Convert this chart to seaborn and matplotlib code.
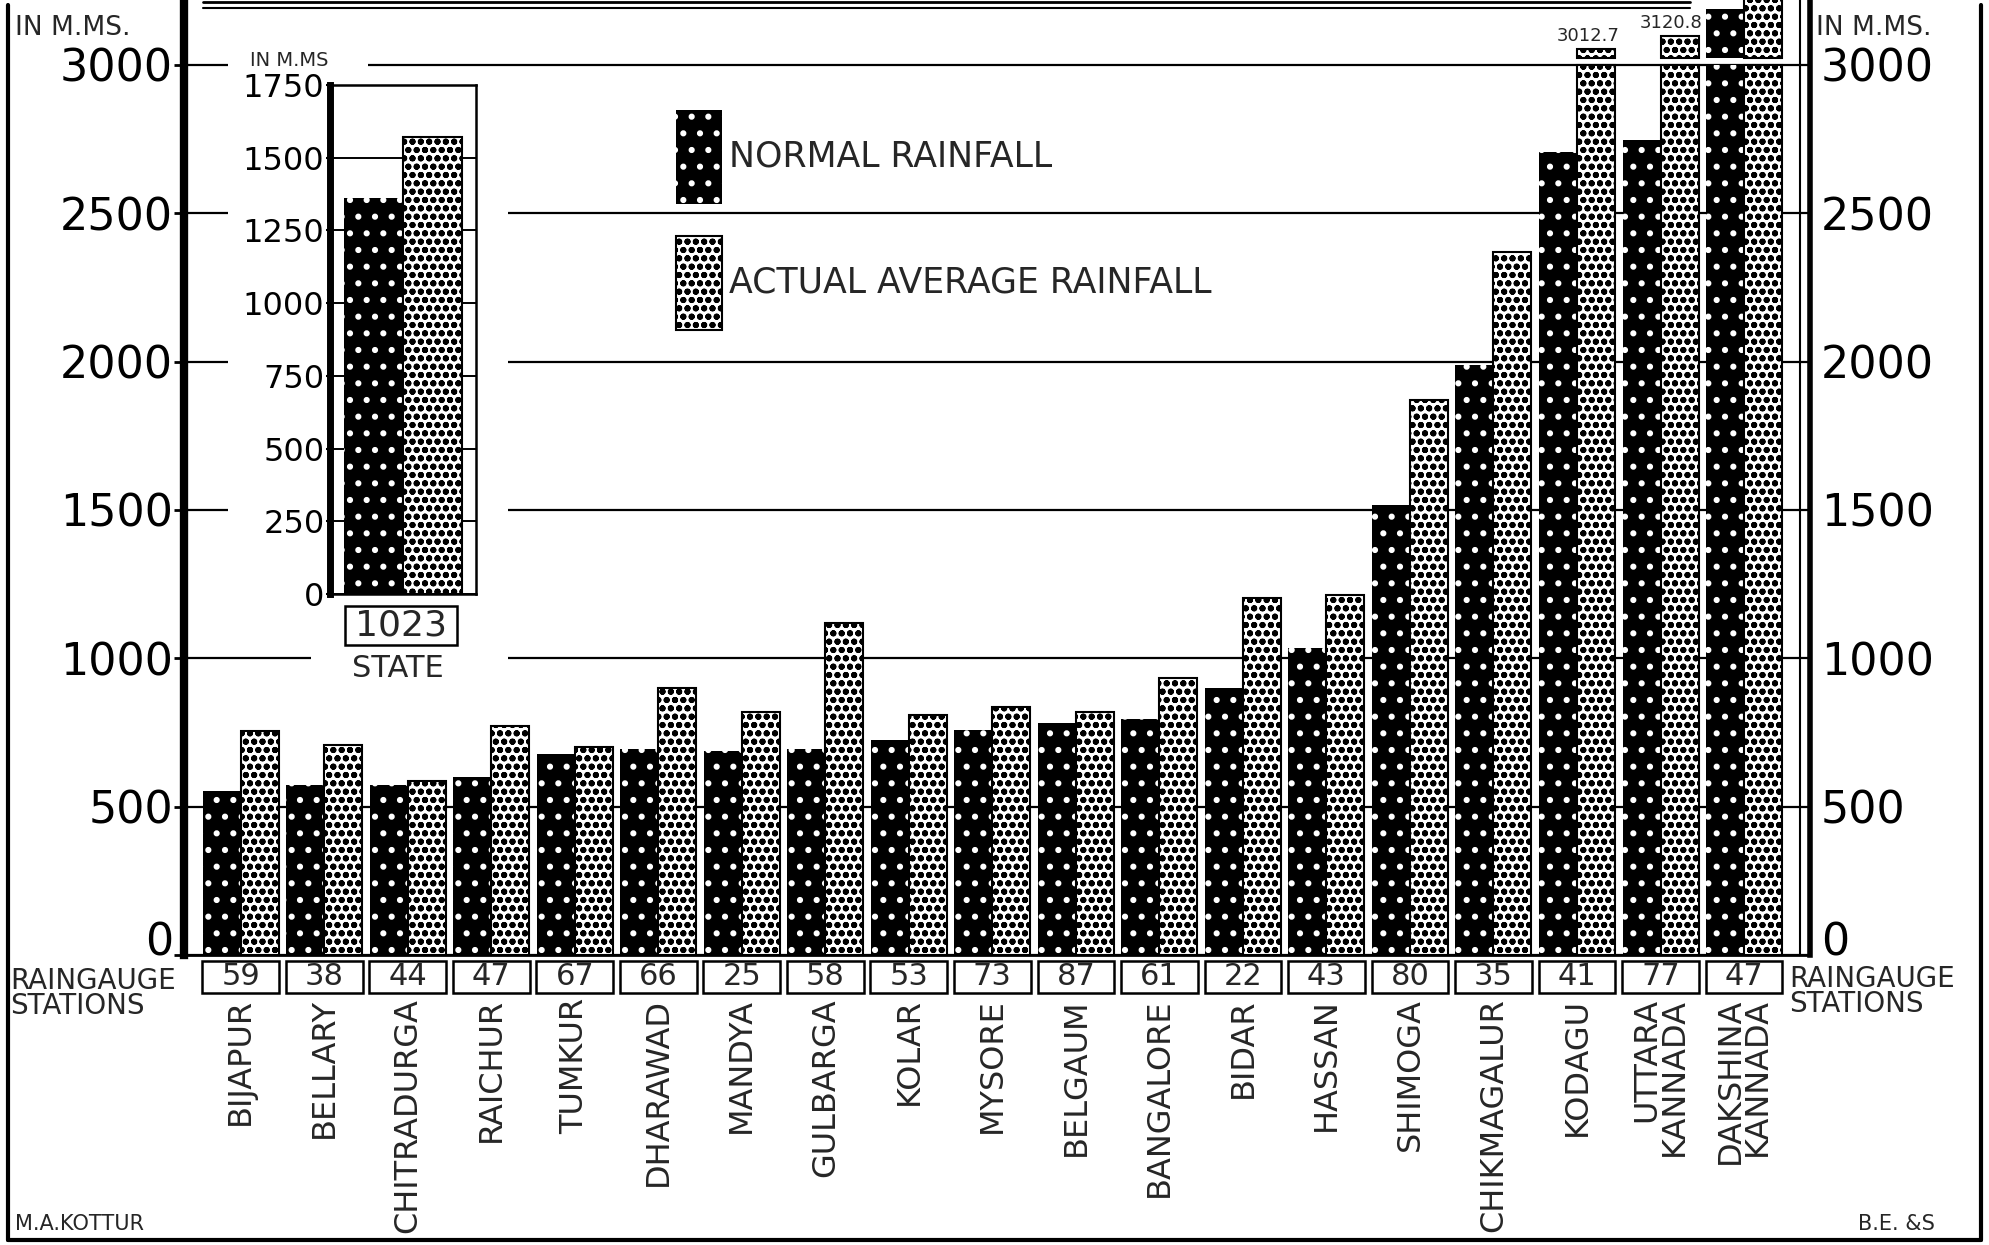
import numpy as np
import pandas as pd
import seaborn as sns
import matplotlib.pyplot as plt
from matplotlib.patches import Patch, Rectangle
from matplotlib.lines import Line2D

# ---- data (mm) ----
districts = ["BIJAPUR", "BELLARY", "CHITRADURGA", "RAICHUR", "TUMKUR", "DHARAWAD",
             "MANDYA", "GULBARGA", "KOLAR", "MYSORE", "BELGAUM", "BANGALORE", "BIDAR",
             "HASSAN", "SHIMOGA", "CHIKMAGALUR", "KODAGU", "UTTARA\nKANNADA",
             "DAKSHINA\nKANNADA"]
stations = [59, 38, 44, 47, 67, 66, 25, 58, 53, 73, 87, 61, 22, 43, 80, 35, 41, 77, 47]
normal_rain = [554, 572, 574, 601, 676, 693, 689, 695, 725, 758, 781, 794, 899,
               1036, 1517, 1989, 2708, 2747, 3270]
actual_rain = [754, 707, 588, 772, 700, 899, 820, 1118, 809, 837, 820, 933, 1202,
               1213, 1870, 2370, 3012.7, 3120.8, 3450]
labelled_tops = {"KODAGU": "3012.7", "UTTARA\nKANNADA": "3120.8"}

state_stations = 1023
state_normal = 1360
state_actual = 1570

main_ticks = [0, 500, 1000, 1500, 2000, 2500, 3000]
state_ticks = [0, 250, 500, 750, 1000, 1250, 1500, 1750]

CAP = 3000          # axis is broken above this
BAR_W = 0.91        # group width

W, H = 1989, 1245
def fx(px):
    return px / W
def fy(py):
    return 1 - py / H

sns.set_theme(style="white")
plt.rcParams["font.family"] = ["DejaVu Sans"]
plt.rcParams["hatch.linewidth"] = 2.0

NORMAL_STYLE = dict(facecolor="black", edgecolor="white", hatch=".", linewidth=0)
ACTUAL_STYLE = dict(facecolor="white", edgecolor="black", hatch="oo", linewidth=1.5)


def style_bars(ax):
    for p in ax.patches:
        if p.get_facecolor()[0] < 0.5:
            p.set_edgecolor("white")
            p.set_linewidth(0)
            p.set_hatch(".")
        else:
            p.set_edgecolor("black")
            p.set_linewidth(1.5)
            p.set_hatch("oo")


fig = plt.figure(figsize=(W / 100, H / 100), dpi=100)

# ---- main chart ----
ax = fig.add_axes([fx(184), fy(955), fx(1810) - fx(184), fy(0) - fy(955)])

df = pd.DataFrame({
    "district": districts * 2,
    "kind": ["NORMAL"] * len(districts) + ["ACTUAL"] * len(districts),
    "rain": np.minimum(normal_rain + actual_rain, CAP),
})
sns.barplot(data=df, x="district", y="rain", hue="kind", order=districts,
            hue_order=["NORMAL", "ACTUAL"],
            palette={"NORMAL": "black", "ACTUAL": "white"},
            width=BAR_W, gap=0, saturation=1, errorbar=None, legend=False,
            edgecolor="black", linewidth=1.5, ax=ax)
style_bars(ax)

# pieces above the break
half = BAR_W / 2
for i, name in enumerate(districts):
    for val, off, st in [(normal_rain[i], -half / 2, NORMAL_STYLE),
                         (actual_rain[i], half / 2, ACTUAL_STYLE)]:
        if val > CAP:
            h = max((val - CAP) * 0.6, 30)
            ax.bar(i + off, h, bottom=CAP + 25, width=half, clip_on=True, **st)
            if name in labelled_tops and off > 0:
                ax.text(i + off - 0.1, CAP + 25 + h + 12, labelled_tops[name],
                        ha="center", va="bottom", fontsize=13)

ax.set_xlim(-0.68, 18.79)
ax.set_ylim(0, 3219)
ax.set_yticks(main_ticks)
ax.set_yticklabels([str(t) for t in main_ticks])
ax.yaxis.grid(True, color="black", linewidth=1.6)
ax.xaxis.grid(False)
ax.set_axisbelow(True)
ax.set_xlabel("")
ax.set_ylabel("")
ax.tick_params(axis="y", left=True, right=False, labelleft=True, labelright=True,
               length=7, width=2, pad=1, labelsize=32, direction="out", colors="black")
# the zero sits just above the base line, clear of the station labels
ax.yaxis.get_major_ticks()[0].label1.set_verticalalignment("baseline")
ax.yaxis.get_major_ticks()[0].label2.set_verticalalignment("baseline")
ax.set_xticks(range(len(districts)))
ax.set_xticklabels(districts, rotation=90, fontsize=23, va="top", ha="center")
for lab in ax.get_xticklabels():
    lab.set_multialignment("right")
    lab.set_linespacing(0.85)
ax.tick_params(axis="x", length=0, pad=31)
ax.spines["top"].set_visible(False)
ax.spines["left"].set_linewidth(6)
ax.spines["right"].set_linewidth(4)
ax.spines["bottom"].set_linewidth(2)
for s in ax.spines.values():
    s.set_color("black")
ax.axvline(18.67, color="black", linewidth=1.5)

# rain gauge station boxes
xt = ax.get_xaxis_transform()
for i, n in enumerate(stations):
    ax.add_patch(Rectangle((i - 0.46, -0.040), 0.92, 0.034, transform=xt,
                           fill=False, edgecolor="black", linewidth=1.8, clip_on=False))
    ax.text(i, -0.023, str(n), transform=xt, ha="center", va="center", fontsize=22)

fig.text(fx(10), fy(967), "RAINGAUGE\nSTATIONS", ha="left", va="top",
         fontsize=20, linespacing=0.85)
fig.text(fx(1789), fy(965), "RAINGAUGE\nSTATIONS", ha="left", va="top",
         fontsize=20, linespacing=0.85)
fig.text(fx(15), fy(28), "IN M.MS.", ha="left", va="center", fontsize=19)
fig.text(fx(1816), fy(28), "IN M.MS.", ha="left", va="center", fontsize=19)

# white space behind the state inset
for x0, y0, x1, y1 in [(228, 75, 508, 648), (228, 50, 368, 76), (311, 647, 508, 684)]:
    fig.add_artist(Rectangle((fx(x0), fy(y1)), fx(x1) - fx(x0), fy(y0) - fy(y1),
                             transform=fig.transFigure, facecolor="white",
                             edgecolor="none", zorder=1))

# ---- state inset ----
ax_in = fig.add_axes([fx(330), fy(594), fx(476) - fx(330), fy(85) - fy(594)], zorder=2)
sns.barplot(x=["STATE", "STATE"], y=[state_normal, state_actual],
            hue=["NORMAL", "ACTUAL"], hue_order=["NORMAL", "ACTUAL"],
            palette={"NORMAL": "black", "ACTUAL": "white"},
            width=1.0, gap=0, saturation=1, errorbar=None, legend=False,
            edgecolor="black", linewidth=1.5, ax=ax_in)
style_bars(ax_in)
ax_in.set_xlim(-0.62, 0.62)
ax_in.set_ylim(0, 1750)
ax_in.set_yticks(state_ticks)
ax_in.set_yticklabels([str(t) for t in state_ticks])
ax_in.yaxis.grid(True, color="black", linewidth=1.4)
ax_in.set_axisbelow(True)
ax_in.set_xticks([])
ax_in.set_xlabel("")
ax_in.set_ylabel("")
ax_in.tick_params(axis="y", left=True, length=3, width=1.5, pad=1, labelsize=23,
                  colors="black")
for s in ax_in.spines.values():
    s.set_color("black")
    s.set_linewidth(1.8)
ax_in.spines["left"].set_linewidth(5)

fig.text(fx(289), fy(60), "IN M.MS", ha="center", va="center", fontsize=14, zorder=3)
fig.add_artist(Rectangle((fx(345), fy(645)), fx(457) - fx(345), fy(606) - fy(645),
                         transform=fig.transFigure, fill=False, edgecolor="black",
                         linewidth=1.8, zorder=3))
fig.text(fx(401), fy(626), str(state_stations), ha="center", va="center",
         fontsize=26, zorder=3)
fig.text(fx(398), fy(668), "STATE", ha="center", va="center", fontsize=22, zorder=3)

# ---- legend ----
handles = [Patch(label="NORMAL RAINFALL", **NORMAL_STYLE),
           Patch(label="ACTUAL AVERAGE RAINFALL", **ACTUAL_STYLE)]
fig.legend(handles=handles, loc="upper left", bbox_to_anchor=(fx(676), fy(110)),
           frameon=False, fontsize=25, handlelength=1.33, handleheight=3.8,
           handletextpad=0.2, labelspacing=0.92, borderpad=0, borderaxespad=0)

# ---- frame and credits ----
for xs, ys, lw in [([8, 8], [5, 1240], 3), ([8, 1981], [1240, 1240], 3),
                   ([1981, 1981], [5, 1240], 3), ([203, 1690], [2, 2], 2),
                   ([203, 1690], [8, 8], 1.5)]:
    fig.add_artist(Line2D([fx(x) for x in xs], [fy(y) for y in ys],
                          color="black", linewidth=lw))
fig.text(fx(15), fy(1224), "M.A.KOTTUR", ha="left", va="center", fontsize=15)
fig.text(fx(1935), fy(1224), "B.E. &S", ha="right", va="center", fontsize=15)

fig.savefig("out.png", dpi=100, facecolor="white")
